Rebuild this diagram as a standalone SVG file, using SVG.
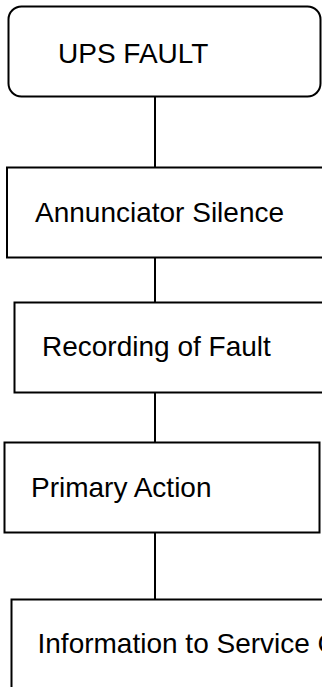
<svg xmlns="http://www.w3.org/2000/svg" width="322" height="687" viewBox="0 0 322 687">
<style>
.box{fill:#fff;stroke:#000;stroke-width:2}
.lbl{font-family:"Liberation Sans",Arial,sans-serif;font-size:28px;fill:#000}
.conn{stroke:#000;stroke-width:2;fill:none}
</style>
<rect width="322" height="687" fill="#fff"/>
<g id="connectors">
<line class="conn" x1="155" y1="96.5" x2="155" y2="167.5"/>
<line class="conn" x1="155" y1="257.5" x2="155" y2="302.5"/>
<line class="conn" x1="155" y1="392.5" x2="155" y2="442.5"/>
<line class="conn" x1="155" y1="532.5" x2="155" y2="599.5"/>
</g>
<g id="n1">
<rect class="box" x="8.5" y="6.5" width="312" height="90" rx="13"/>
<text class="lbl" x="58" y="63">UPS FAULT</text>
</g>
<g id="n2">
<rect class="box" x="7" y="167.5" width="340" height="90"/>
<text class="lbl" x="35" y="221.5">Annunciator Silence</text>
</g>
<g id="n3">
<rect class="box" x="14.5" y="302.5" width="340" height="90"/>
<text class="lbl" x="42" y="355.5">Recording of Fault</text>
</g>
<g id="n4">
<rect class="box" x="4.5" y="442.5" width="315" height="90"/>
<text class="lbl" x="31" y="496.5">Primary Action</text>
</g>
<g id="n5">
<rect class="box" x="11.5" y="599.5" width="340" height="120"/>
<text class="lbl" x="37.5" y="653">Information to Service C</text>
</g>
</svg>
